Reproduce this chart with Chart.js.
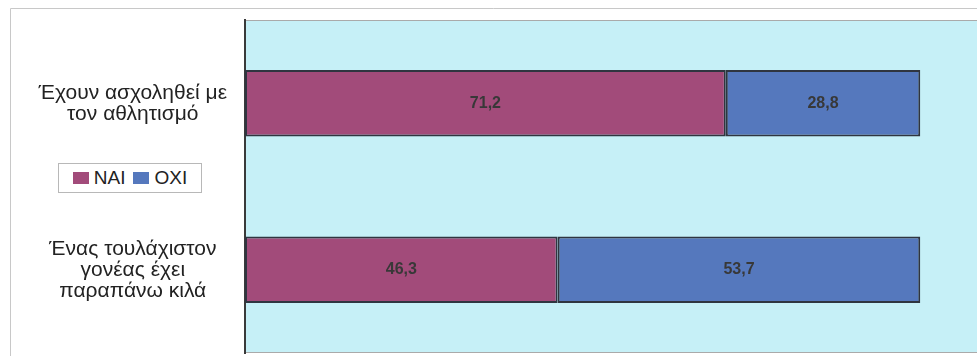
<!DOCTYPE html>
<html>
<head>
<meta charset="utf-8">
<script src="https://cdn.jsdelivr.net/npm/chart.js@4/dist/chart.umd.min.js"></script>
<style>
  html, body { margin: 0; padding: 0; background: #fff; }
  #wrap { position: relative; width: 977px; height: 357px; }
  #legend {
    position: absolute; left: 58px; top: 163px; width: 142px; height: 28px;
    border: 1px solid #b8b8b8; background: #fff;
    font: 19px "Liberation Sans", Arial, sans-serif; color: #222;
    display: flex; align-items: center; justify-content: center; gap: 8px;
  }
  #legend span.box { display: inline-block; width: 16px; height: 12px; margin-right: 5px; vertical-align: 0px; }
</style>
</head>
<body>
<div id="wrap">
  <canvas id="chart" width="977" height="357"></canvas>
  <div id="legend"></div>
</div>
<script>
const categories = [
  ["Έχουν ασχοληθεί με", "τον αθλητισμό"],
  ["Ένας τουλάχιστον", "γονέας έχει", "παραπάνω κιλά"]
];
const seriesNames = ["ΝΑΙ", "ΟΧΙ"];
const naiValues = [71.2, 46.3];
const oxiValues = [28.8, 53.7];
const seriesColors = ["#a24b7a", "#5578bd"];

// background of the plot area + outer frame
const backdrop = {
  id: "backdrop",
  beforeDraw(chart) {
    const { ctx, chartArea: a } = chart;
    ctx.save();
    ctx.fillStyle = "#c6f0f7";
    ctx.fillRect(a.left, a.top, a.right - a.left, a.bottom - a.top);
    ctx.strokeStyle = "#c8c8c8";
    ctx.lineWidth = 1;
    ctx.beginPath();
    ctx.moveTo(10.5, 356);
    ctx.lineTo(10.5, 8.5);
    ctx.lineTo(977, 8.5);
    ctx.stroke();
    ctx.strokeStyle = "#aaaaaa";
    ctx.beginPath();
    ctx.moveTo(a.left, a.top + 0.5);
    ctx.lineTo(a.right, a.top + 0.5);
    ctx.moveTo(a.left, a.bottom - 0.5);
    ctx.lineTo(a.right, a.bottom - 0.5);
    ctx.stroke();
    ctx.restore();
  }
};

// values written in the middle of each bar
const valueLabels = {
  id: "valueLabels",
  afterDatasetsDraw(chart) {
    const { ctx } = chart;
    ctx.save();
    ctx.font = "bold 16px 'Liberation Sans', Arial, sans-serif";
    ctx.fillStyle = "#383838";
    ctx.textAlign = "center";
    ctx.textBaseline = "middle";
    chart.data.datasets.forEach((ds, i) => {
      chart.getDatasetMeta(i).data.forEach((bar, j) => {
        const x = (bar.x + bar.base) / 2;
        ctx.fillText(ds.data[j].toFixed(1).replace(".", ","), x, bar.y);
      });
    });
    ctx.restore();
  }
};

const chart = new Chart(document.getElementById("chart"), {
  type: "bar",
  data: {
    labels: categories,
    datasets: [
      { label: seriesNames[0], data: naiValues, backgroundColor: seriesColors[0] },
      { label: seriesNames[1], data: oxiValues, backgroundColor: seriesColors[1] }
    ].map(d => Object.assign(d, {
      borderColor: "#2f3540",
      borderWidth: 2,
      borderSkipped: false,
      barPercentage: 0.4,
      categoryPercentage: 1
    }))
  },
  options: {
    indexAxis: "y",
    responsive: false,
    animation: false,
    layout: { padding: { top: 20, left: 10, right: 0, bottom: 4 } },
    plugins: {
      legend: { display: false },
      tooltip: { enabled: false }
    },
    scales: {
      x: {
        stacked: true,
        min: 0,
        max: 108.4,
        display: false
      },
      y: {
        stacked: true,
        grid: { display: false, drawTicks: false },
        border: { color: "#3a3a3a", width: 2 },
        afterFit(scale) {
          scale.width = 235;
          scale.paddingTop = 0;
          scale.paddingBottom = 0;
        },
        ticks: {
          crossAlign: "center",
          padding: 18,
          color: "#222",
          font: { family: "'Liberation Sans', Arial, sans-serif", size: 21, lineHeight: 1.0 }
        }
      }
    }
  },
  plugins: [backdrop, valueLabels]
});

// legend box sitting between the two category labels
const legendEl = document.getElementById("legend");
chart.data.datasets.forEach(ds => {
  const item = document.createElement("span");
  const box = document.createElement("span");
  box.className = "box";
  box.style.background = ds.backgroundColor;
  item.appendChild(box);
  item.appendChild(document.createTextNode(ds.label));
  legendEl.appendChild(item);
});
</script>
</body>
</html>
